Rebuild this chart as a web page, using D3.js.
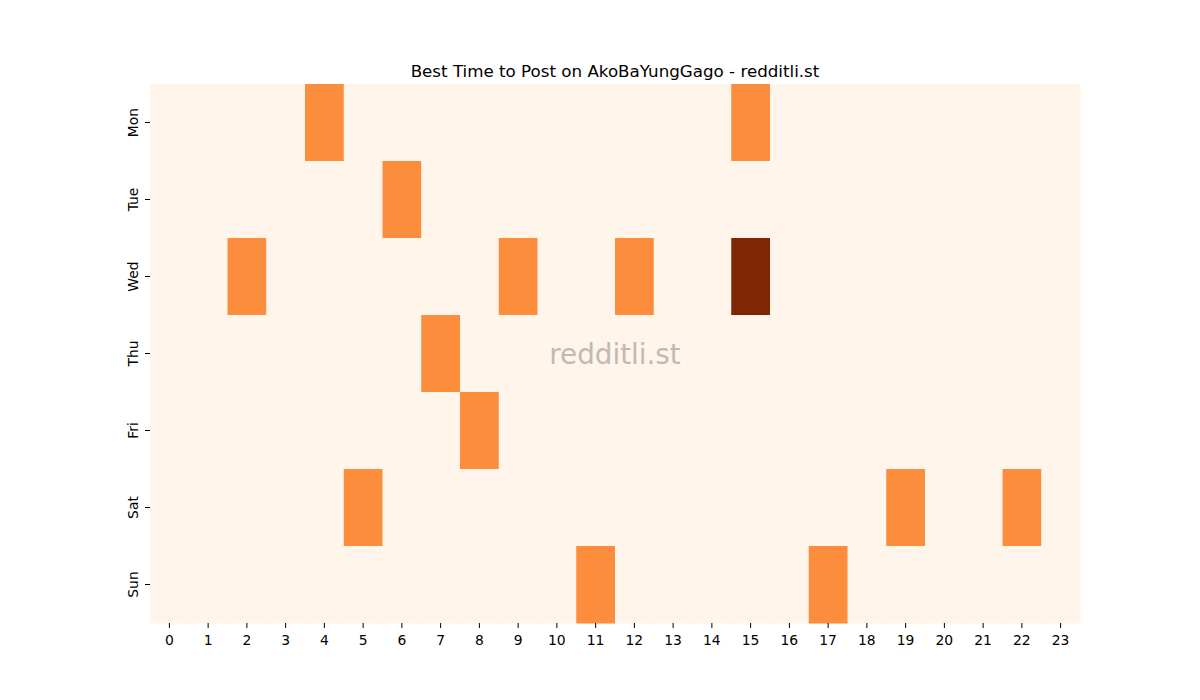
<!DOCTYPE html>
<html>
<head>
<meta charset="utf-8">
<script src="https://cdn.jsdelivr.net/npm/d3@7"></script>
<style>
  body { margin: 0; background: #fff; }
  text { font-family: "DejaVu Sans", sans-serif; fill: #000; }
</style>
</head>
<body>
<div id="chart"></div>
<script>
// days (rows) and hours (columns)
var days = ["Mon", "Tue", "Wed", "Thu", "Fri", "Sat", "Sun"];
var hours = d3.range(0, 24).map(String);

// posts per cell: [day, hour, value]
var cells = [
  ["Mon", 4, 1], ["Mon", 15, 1],
  ["Tue", 6, 1],
  ["Wed", 2, 1], ["Wed", 9, 1], ["Wed", 12, 1], ["Wed", 15, 2],
  ["Thu", 7, 1],
  ["Fri", 8, 1],
  ["Sat", 5, 1], ["Sat", 19, 1], ["Sat", 22, 1],
  ["Sun", 11, 1], ["Sun", 17, 1]
];

var W = 1200, H = 700;
var margin = { top: 84, right: 120, bottom: 77, left: 150 };
var width = W - margin.left - margin.right;
var height = H - margin.top - margin.bottom;

var svg = d3.select("#chart")
  .append("svg")
    .attr("width", W)
    .attr("height", H);

var g = svg.append("g")
    .attr("transform", "translate(" + margin.left + "," + margin.top + ")");

// build full grid, zero where nothing was posted
var lookup = {};
cells.forEach((c) => { lookup[c[0] + "-" + c[1]] = c[2]; });
var grid = [];
days.forEach((d) => hours.forEach((h) => {
  grid.push({ day: d, hour: h, value: lookup[d + "-" + h] || 0 });
}));

var x = d3.scaleBand().domain(hours).range([0, width]);
var y = d3.scaleBand().domain(days).range([0, height]);
var color = d3.scaleSequential(d3.interpolateOranges)
  .domain([0, d3.max(grid, (d) => d.value)]);

g.selectAll("rect.cell")
  .data(grid)
  .enter().append("rect")
    .attr("class", "cell")
    .attr("x", (d) => x(d.hour))
    .attr("y", (d) => y(d.day))
    .attr("width", x.bandwidth() + 0.5)
    .attr("height", y.bandwidth() + 0.5)
    .attr("fill", (d) => color(d.value));

// X axis
var xAxis = g.append("g")
  .attr("transform", "translate(0," + height + ")")
  .call(d3.axisBottom(x).tickSize(5).tickPadding(4));
xAxis.select(".domain").remove();
xAxis.selectAll("text").style("font-size", "13.9px").attr("dy", "0.9em");
xAxis.selectAll("line").attr("stroke", "#000").attr("stroke-width", 1);

// Y axis
var yAxis = g.append("g")
  .call(d3.axisLeft(y).tickSize(5).tickPadding(4));
yAxis.select(".domain").remove();
yAxis.selectAll("line").attr("stroke", "#000").attr("stroke-width", 1);
yAxis.selectAll("text")
  .style("font-size", "13.9px")
  .attr("text-anchor", "middle")
  .attr("dy", null)
  .attr("x", null)
  .attr("transform", "translate(-17,0) rotate(-90)")
  .attr("dominant-baseline", "central");

// title
svg.append("text")
  .attr("x", margin.left + width / 2)
  .attr("y", 77)
  .attr("text-anchor", "middle")
  .style("font-size", "16.7px")
  .text("Best Time to Post on AkoBaYungGago - redditli.st");

// watermark
svg.append("text")
  .attr("x", margin.left + width / 2)
  .attr("y", margin.top + height / 2 + 10)
  .attr("text-anchor", "middle")
  .style("font-size", "27.8px")
  .style("fill", "#808080")
  .style("opacity", 0.5)
  .text("redditli.st");
</script>
</body>
</html>
